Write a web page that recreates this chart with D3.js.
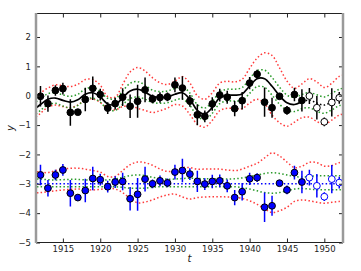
<!DOCTYPE html>
<html>
<head>
<meta charset="utf-8">
<script src="https://cdn.jsdelivr.net/npm/d3@7"></script>
<style>
	body { margin: 0; background: #fff; }
	svg { display: block; }
	text { font-family: "DejaVu Sans", sans-serif; }
</style>
</head>
<body>
<svg id="chart" width="361" height="271"></svg>
<script>
// observed years and values (top panel: data, bottom panel: residuals shifted to -3)
var years = [1912,1913,1914,1915,1916,1917,1918,1919,1920,1921,1922,1923,1924,1925,1926,1927,1928,1929,1930,
	1931,1932,1933,1934,1935,1936,1937,1938,1939,1940,1941,1942,1943,1944,1945,1946,1947,1948,1949,1950,1951,1952];
var topVals = [-0.02,-0.27,0.18,0.24,-0.57,-0.56,-0.13,0.25,0.04,-0.42,-0.27,-0.05,-0.36,-0.19,0.2,-0.11,-0.06,-0.04,0.37,
	0.26,-0.18,-0.65,-0.7,-0.28,0.02,-0.05,-0.44,-0.17,0.43,0.73,-0.22,-0.41,-0.02,-0.5,0.04,-0.16,-0.01,-0.41,-0.89,-0.23,-0.07];
var botVals = [-2.7,-3.15,-2.7,-2.53,-3.32,-3.47,-3.23,-2.82,-2.86,-3.1,-2.94,-2.92,-3.51,-3.36,-2.84,-3.0,-2.9,-2.97,-2.6,
	-2.55,-2.67,-2.92,-3.01,-2.92,-2.9,-3.07,-3.47,-3.27,-2.83,-2.79,-3.8,-3.75,-2.98,-3.21,-2.62,-2.94,-2.79,-3.07,-3.44,-2.84,-2.96];
var errs = [0.35,0.28,0.18,0.2,0.45,0.1,0.4,0.4,0.2,0.2,0.2,0.3,0.4,0.56,0.42,0.15,0.18,0.15,0.25,
	0.4,0.2,0.36,0.2,0.23,0.22,0.22,0.26,0.3,0.21,0.15,0.5,0.34,0.08,0.15,0.23,0.38,0.27,0.4,0.15,0.48,0.2];
var heldOut = 1948; // points from here on are drawn open

// model curves sampled each year
var curveYears = [1911,1912,1913,1914,1915,1916,1917,1918,1919,1920,1921,1922,1923,1924,1925,1926,1927,1928,1929,1930,
	1931,1932,1933,1934,1935,1936,1937,1938,1939,1940,1941,1942,1943,1944,1945,1946,1947,1948,1949,1950,1951,1952,1953];
var meanTop = [-0.5,-0.3,-0.12,-0.08,-0.16,-0.22,-0.14,0.05,0.1,-0.04,-0.28,-0.3,-0.07,0.16,0.22,0.12,-0.02,-0.06,-0.04,0.05,
	0.1,-0.12,-0.5,-0.62,-0.4,-0.07,0.02,0.02,0.06,0.33,0.58,0.58,0.32,0.0,-0.24,-0.3,-0.2,-0.15,-0.25,-0.32,-0.2,-0.06,0.0];
var baseBot = -3;
// green band half-width around the top mean
var greenTop = [0.21,0.2,0.19,0.18,0.19,0.2,0.19,0.18,0.18,0.18,0.19,0.2,0.23,0.26,0.26,0.24,0.21,0.2,0.2,0.2,
	0.21,0.21,0.2,0.2,0.2,0.2,0.2,0.2,0.22,0.25,0.27,0.29,0.3,0.29,0.26,0.24,0.24,0.26,0.28,0.28,0.28,0.28,0.28];
// green band edges around -3
var greenUp = [0.17,0.16,0.14,0.13,0.14,0.15,0.15,0.13,0.12,0.12,0.13,0.16,0.22,0.28,0.3,0.28,0.22,0.18,0.16,0.16,
	0.18,0.19,0.18,0.17,0.17,0.16,0.16,0.17,0.2,0.25,0.3,0.35,0.38,0.35,0.3,0.25,0.23,0.25,0.27,0.27,0.27,0.27,0.27];
var greenLo = [-0.11,-0.1,-0.1,-0.1,-0.1,-0.1,-0.1,-0.1,-0.1,-0.1,-0.1,-0.1,-0.12,-0.15,-0.15,-0.15,-0.12,-0.1,-0.1,-0.1,
	-0.1,-0.1,-0.1,-0.1,-0.1,-0.1,-0.1,-0.1,-0.13,-0.18,-0.24,-0.3,-0.32,-0.3,-0.24,-0.18,-0.16,-0.18,-0.2,-0.2,-0.2,-0.2,-0.2];
// red band edges (same offsets in both panels)
var redUp = [0.42,0.4,0.38,0.45,0.5,0.53,0.53,0.5,0.45,0.4,0.25,0.25,0.45,0.65,0.74,0.72,0.63,0.5,0.42,0.45,
	0.55,0.55,0.5,0.5,0.5,0.5,0.47,0.45,0.5,0.6,0.7,0.88,1.05,0.95,0.74,0.55,0.6,0.73,0.72,0.6,0.62,0.72,0.72];
var redLo = [-0.32,-0.3,-0.27,-0.24,-0.21,-0.19,-0.18,-0.19,-0.21,-0.19,-0.16,-0.18,-0.3,-0.5,-0.65,-0.62,-0.55,-0.45,-0.38,-0.35,
	-0.45,-0.52,-0.47,-0.45,-0.44,-0.44,-0.45,-0.46,-0.5,-0.58,-0.7,-0.85,-0.98,-0.92,-0.8,-0.6,-0.55,-0.58,-0.63,-0.66,-0.63,-0.6,-0.6];

var xTicks = [1915,1920,1925,1930,1935,1940,1945,1950];
var yTicks = [-5,-4,-3,-2,-1,0,1,2];

var m = {left: 36, right: 343, top: 13.5, bottom: 242.5};

var svg = d3.select('#chart');
var x = d3.scaleLinear().domain([1911.4, 1952.5]).range([m.left, m.right]);
var y = d3.scaleLinear().domain([-5, 2.8]).range([m.bottom, m.top]);

svg.append('clipPath').attr('id', 'clip')
	.append('rect')
	.attr('x', m.left).attr('y', m.top)
	.attr('width', m.right - m.left).attr('height', m.bottom - m.top);

var plot = svg.append('g').attr('clip-path', 'url(#clip)');

var curve = d3.curveCatmullRom.alpha(0.5);
// line through base(i) + sign * off[i]
var line = function(base, off, sign) {
	return d3.line()
		.curve(curve)
		.x(function(d, i) { return x(curveYears[i]); })
		.y(function(d, i) { return y(base(i) + (off ? (sign || 1) * off[i] : 0)); })(curveYears);
};
var topBase = function(i) { return meanTop[i]; };
var botBase = function(i) { return baseBot; };

var dotted = function(path, color, w) {
	return plot.append('path')
		.attr('d', path)
		.attr('fill', 'none')
		.attr('stroke', color)
		.attr('stroke-width', w || 1.5)
		.attr('stroke-dasharray', '1.5,2.3');
};

// bands
var red = '#ff3a3a', green = '#2a9a2a';
[topBase, botBase].forEach(function(b) {
	dotted(line(b, redUp), red);
	dotted(line(b, redLo), red);
});
dotted(line(topBase, greenTop, 1), green);
dotted(line(topBase, greenTop, -1), green);
dotted(line(botBase, greenUp), green);
dotted(line(botBase, greenLo), green);
dotted(line(botBase), '#0000ff');

// mean curve: solid over the data, dotted over the held-out part
var split = curveYears.indexOf(1947);
var meanPath = function(lo, hi) {
	return d3.line()
		.curve(curve)
		.defined(function(d, i) { return i >= lo && i <= hi; })
		.x(function(d, i) { return x(curveYears[i]); })
		.y(function(d, i) { return y(meanTop[i]); })(curveYears);
};
plot.append('path').attr('d', meanPath(0, split))
	.attr('fill', 'none').attr('stroke', '#000').attr('stroke-width', 1.7);
dotted(meanPath(split, curveYears.length - 1), '#000', 1.5);

// error bars and markers
var drawPoints = function(vals, color, fill) {
	var g = plot.append('g');
	g.selectAll('line').data(vals)
		.enter()
		.append('line')
		.attr('x1', function(d, i) { return x(years[i]); })
		.attr('x2', function(d, i) { return x(years[i]); })
		.attr('y1', function(d, i) { return y(d - errs[i]); })
		.attr('y2', function(d, i) { return y(d + errs[i]); })
		.attr('stroke', color)
		.attr('stroke-width', 1.5);
	g.selectAll('circle').data(vals)
		.enter()
		.append('circle')
		.attr('cx', function(d, i) { return x(years[i]); })
		.attr('cy', function(d) { return y(d); })
		.attr('r', 3.4)
		.attr('fill', function(d, i) { return years[i] >= heldOut ? '#fff' : fill; })
		.attr('stroke', function(d, i) { return years[i] >= heldOut ? color : '#000'; })
		.attr('stroke-width', 1);
};
drawPoints(topVals, '#000', '#000');
drawPoints(botVals, '#0000ff', '#0000ff');

// axes, ticks pointing inward
var ax = function(a, tx, ty) {
	var g = svg.append('g').attr('transform', 'translate(' + tx + ',' + ty + ')').call(a);
	g.select('.domain').remove();
	g.selectAll('line').attr('stroke', '#222');
	g.selectAll('text').attr('fill', '#222').style('font-size', '8.5px');
	return g;
};
ax(d3.axisBottom(x).tickValues(xTicks).tickFormat(d3.format('d')).tickSize(-4).tickPadding(3), 0, m.bottom);
ax(d3.axisTop(x).tickValues(xTicks).tickFormat('').tickSize(-4), 0, m.top);
ax(d3.axisLeft(y).tickValues(yTicks).tickFormat(d3.format('d')).tickSize(-4).tickPadding(5), m.left, 0);
ax(d3.axisRight(y).tickValues(yTicks).tickFormat('').tickSize(-4), m.right, 0);

// frame: dark top and bottom, grey sides
svg.append('line').attr('x1', m.left).attr('x2', m.right).attr('y1', m.top).attr('y2', m.top)
	.attr('stroke', '#222').attr('stroke-width', 1);
svg.append('line').attr('x1', m.left).attr('x2', m.right).attr('y1', m.bottom).attr('y2', m.bottom)
	.attr('stroke', '#222').attr('stroke-width', 1);
[m.left, m.right].forEach(function(px) {
	svg.append('line').attr('x1', px).attr('x2', px).attr('y1', m.top - 0.5).attr('y2', m.bottom + 0.5)
		.attr('stroke', '#9a9a9a').attr('stroke-width', 2.5);
});

// axis labels
svg.append('text').attr('x', (m.left + m.right) / 2).attr('y', 262)
	.attr('text-anchor', 'middle').style('font-size', '10px').style('font-style', 'italic')
	.attr('fill', '#222').text('t');
svg.append('text').attr('transform', 'translate(14,' + ((m.top + m.bottom) / 2) + ') rotate(-90)')
	.attr('text-anchor', 'middle').style('font-size', '10px').style('font-style', 'italic')
	.attr('fill', '#222').text('y');
</script>
</body>
</html>
